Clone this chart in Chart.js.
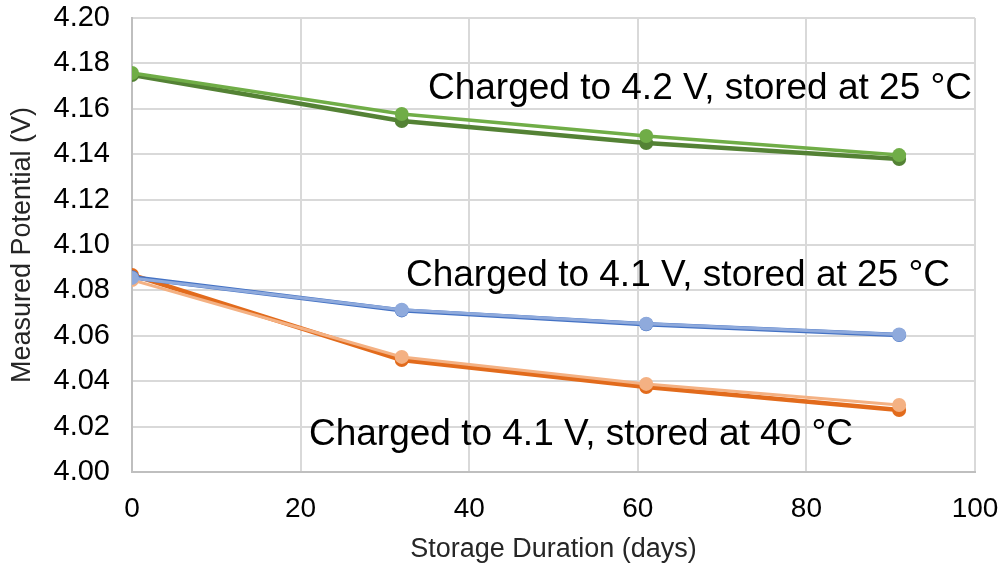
<!DOCTYPE html>
<html lang="en">
<head>
  <meta charset="UTF-8" />
  <title>Storage Potential</title>
  <script src="https://cdn.jsdelivr.net/npm/chart.js"></script>
  <style>
    body {
      margin: 0;
      padding: 0;
      background: #ffffff;
    }
    .chart-container {
      width: 1006px;
      height: 566px;
    }
  </style>
</head>
<body>

<div class="chart-container">
  <canvas id="potentialChart"></canvas>
</div>

<script>
  // storage days at each measurement
  const days = [0, 32, 61, 91];

  // measured potential (V), two cells per condition
  const v42at25a = [4.1749, 4.1546, 4.1449, 4.1379];
  const v42at25b = [4.1758, 4.1577, 4.1480, 4.1396];
  const v41at25a = [4.0858, 4.0712, 4.0651, 4.0603];
  const v41at25b = [4.0855, 4.0715, 4.0653, 4.0606];
  const v41at40a = [4.0868, 4.0493, 4.0374, 4.0273];
  const v41at40b = [4.0846, 4.0507, 4.0388, 4.0295];

  const xTicks = [0, 20, 40, 60, 80, 100];
  const yTicks = [4.00, 4.02, 4.04, 4.06, 4.08, 4.10, 4.12, 4.14, 4.16, 4.18, 4.20];

  const labelFont = '"Liberation Sans", Arial, sans-serif';

  // order: lower value is drawn on top, so the lighter cell sits over the darker one
  function series(values, color, width, order) {
    return {
      data: days.map((d, i) => ({ x: d, y: values[i] })),
      borderColor: color,
      backgroundColor: color,
      borderWidth: width,
      pointRadius: 7,
      pointHoverRadius: 7,
      pointBorderWidth: 0,
      tension: 0,
      order: order
    };
  }

  // text labels next to each pair of curves
  const curveLabels = {
    id: 'curveLabels',
    afterDatasetsDraw(chart) {
      const ctx = chart.ctx;
      ctx.save();
      ctx.font = '37px ' + labelFont;
      ctx.fillStyle = '#000000';
      ctx.textAlign = 'center';
      ctx.textBaseline = 'middle';
      ctx.fillText('Charged to 4.2 V, stored at 25 °C', 700, 89);
      ctx.fillText('Charged to 4.1 V, stored at 25 °C', 678, 276);
      ctx.fillText('Charged to 4.1 V, stored at 40 °C', 581, 435);
      ctx.restore();
    }
  };

  new Chart(document.getElementById('potentialChart'), {
    type: 'line',
    data: {
      datasets: [
        series(v42at25a, '#548235', 4.5, 1),
        series(v42at25b, '#70ad47', 3.5, 0),
        series(v41at25a, '#4472c4', 4.5, 1),
        series(v41at25b, '#8faadc', 3, 0),
        series(v41at40a, '#e26b1c', 4.5, 1),
        series(v41at40b, '#f4b183', 3, 0)
      ]
    },
    options: {
      responsive: true,
      maintainAspectRatio: false,
      animation: false,
      layout: { padding: { top: 18, right: 31, left: 0, bottom: 0 } },
      plugins: {
        legend: { display: false },
        tooltip: { enabled: false }
      },
      scales: {
        x: {
          type: 'linear',
          min: 0,
          max: 100,
          afterBuildTicks(axis) { axis.ticks = xTicks.map(v => ({ value: v })); },
          afterFit(axis) {
            axis.height = 94;
            axis.paddingLeft = 0;
            axis.paddingRight = 0;
          },
          grid: { color: '#d9d9d9', lineWidth: 2, drawTicks: false },
          border: { color: '#bfbfbf', width: 2 },
          ticks: {
            color: '#000000',
            font: { family: labelFont, size: 28 },
            padding: 20
          },
          title: {
            display: true,
            text: 'Storage Duration (days)',
            color: '#262626',
            font: { family: labelFont, size: 27 },
            padding: { top: 4, bottom: 0 }
          }
        },
        y: {
          min: 4.00,
          max: 4.20,
          afterBuildTicks(axis) { axis.ticks = yTicks.map(v => ({ value: v })); },
          afterFit(axis) {
            axis.width = 132;
            axis.paddingTop = 0;
            axis.paddingBottom = 0;
          },
          grid: { color: '#d9d9d9', lineWidth: 2, drawTicks: false },
          border: { color: '#bfbfbf', width: 2 },
          ticks: {
            color: '#000000',
            font: { family: labelFont, size: 29 },
            padding: 22,
            callback: v => v.toFixed(2)
          },
          title: {
            display: true,
            text: 'Measured Potential (V)',
            color: '#262626',
            font: { family: labelFont, size: 27 },
            padding: { top: 6, bottom: 0 }
          }
        }
      }
    },
    plugins: [curveLabels]
  });
</script>

</body>
</html>
